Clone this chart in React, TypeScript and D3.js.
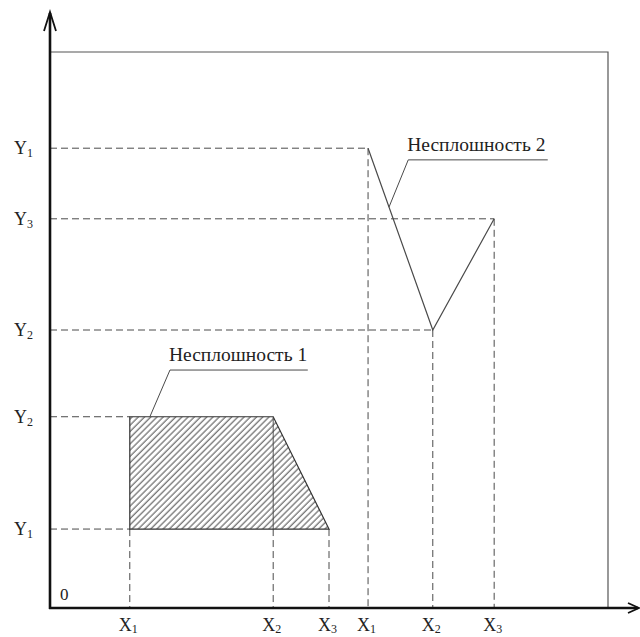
import React, { useEffect, useRef } from "react";
import * as d3 from "d3";

// axis values (in chart units, 0..100 on both axes)
const defect1X = [14.3, 40, 50];
const defect1Y = [14.2, 34.4];
const defect2X = [57, 68.6, 79.6];
const defect2Y = [82.7, 50, 70];

const xTickLabels = ["1", "2", "3", "1", "2", "3"];
const yTickLabels1 = ["1", "2"];
const yTickLabels2 = ["1", "2", "3"];

const leader1 = [[17.9, 34.4], [21.5, 42.8], [46.2, 42.8]];
const leader2 = [[60.75, 72.1], [64.2, 80.6], [89.2, 80.6]];
const labels = ["Несплошность 1", "Несплошность 2"];

const W = 640;
const H = 637;

export default function App() {
  const ref = useRef<SVGSVGElement>(null);

  useEffect(() => {
    const svg = d3.select(ref.current);
    svg.selectAll("*").remove();

    const x = d3.scaleLinear().domain([0, 100]).range([50, 608]);
    const y = d3.scaleLinear().domain([0, 100]).range([608, 52]);
    const x0 = x(0), y0 = y(0);

    const font = "Liberation Serif, Times New Roman, Tinos, DejaVu Serif, serif";
    const grey = "#4a4a4a";
    const line = d3.line<number[]>().x(d => x(d[0])).y(d => y(d[1]));

    // hatch pattern
    const defs = svg.append("defs");
    defs.append("pattern")
      .attr("id", "hatch")
      .attr("patternUnits", "userSpaceOnUse")
      .attr("width", 4.4).attr("height", 10)
      .attr("patternTransform", "rotate(45)")
      .append("line")
      .attr("x1", 1).attr("x2", 1).attr("y1", 0).attr("y2", 10)
      .attr("stroke", "#333").attr("stroke-width", 0.9);

    // frame
    svg.append("path")
      .attr("d", line([[0, 100], [100, 100], [100, 0]]))
      .attr("fill", "none").attr("stroke", "#555").attr("stroke-width", 1.2);

    // dashed projection lines
    const dashed = svg.append("g")
      .attr("stroke", grey).attr("stroke-width", 1)
      .attr("stroke-dasharray", "7,4").attr("fill", "none");

    const hSeg = [
      [defect1Y[0], defect1X[0]],
      [defect1Y[1], defect1X[0]],
      [defect2Y[0], defect2X[0]],
      [defect2Y[1], defect2X[1]],
      [defect2Y[2], defect2X[2]],
    ];
    dashed.selectAll("line.h").data(hSeg).join("line").attr("class", "h")
      .attr("x1", x0).attr("x2", d => x(d[1]))
      .attr("y1", d => y(d[0])).attr("y2", d => y(d[0]));

    const vSeg = [
      [defect1X[0], defect1Y[0]],
      [defect1X[1], defect1Y[0]],
      [defect1X[2], defect1Y[0]],
      [defect2X[0], defect2Y[0]],
      [defect2X[1], defect2Y[1]],
      [defect2X[2], defect2Y[2]],
    ];
    dashed.selectAll("line.v").data(vSeg).join("line").attr("class", "v")
      .attr("x1", d => x(d[0])).attr("x2", d => x(d[0]))
      .attr("y1", d => y(d[1])).attr("y2", y0);

    // defect 1: hatched trapezoid
    const trap = [
      [defect1X[0], defect1Y[1]],
      [defect1X[1], defect1Y[1]],
      [defect1X[2], defect1Y[0]],
      [defect1X[0], defect1Y[0]],
      [defect1X[0], defect1Y[1]],
    ];
    svg.append("path")
      .attr("d", line(trap) + "Z")
      .attr("fill", "url(#hatch)")
      .attr("stroke", "#333").attr("stroke-width", 1.2);
    svg.append("line")
      .attr("x1", x(defect1X[1])).attr("x2", x(defect1X[1]))
      .attr("y1", y(defect1Y[1])).attr("y2", y(defect1Y[0]))
      .attr("stroke", "#444").attr("stroke-width", 0.9);

    // defect 2: polyline
    svg.append("path")
      .attr("d", line(defect2X.map((v, i) => [v, defect2Y[i]])))
      .attr("fill", "none").attr("stroke", grey).attr("stroke-width", 1.2);

    // leaders + labels
    [leader1, leader2].forEach((pts, i) => {
      svg.append("path")
        .attr("d", line(pts))
        .attr("fill", "none").attr("stroke", grey).attr("stroke-width", 1);
      svg.append("text")
        .attr("x", x(pts[1][0]) - 1)
        .attr("y", y(pts[1][1]) - 9)
        .style("font-family", font).attr("font-size", 19.5).attr("fill", "#222")
        .text(labels[i]);
    });

    // axes
    const axes = svg.append("g").attr("stroke", "#111").attr("fill", "none");
    axes.append("line").attr("x1", x0).attr("x2", x0).attr("y1", y0 + 1).attr("y2", 13)
      .attr("stroke-width", 2.6);
    axes.append("line").attr("x1", x0 - 1).attr("x2", 638).attr("y1", y0).attr("y2", y0)
      .attr("stroke-width", 2.6);
    axes.append("path").attr("d", `M${x0 - 6},31 L${x0},12 L${x0 + 6},31`).attr("stroke-width", 1.8);
    axes.append("path").attr("d", `M628,${y0 - 5} L639,${y0} L628,${y0 + 5}`).attr("stroke-width", 1.8);

    // tick labels
    const allX = defect1X.concat(defect2X);
    const xt = svg.append("g").style("font-family", font).attr("fill", "#222");
    xt.selectAll("text").data(allX).join("text")
      .attr("x", d => x(d) - 11).attr("y", 631).attr("font-size", 18)
      .each(function (d, i) {
        const t = d3.select(this);
        t.append("tspan").text("X");
        t.append("tspan").attr("font-size", 12).attr("dy", 2).text(xTickLabels[i]);
      });

    const allY = defect1Y.map((v, i) => [v, yTickLabels1[i]])
      .concat(defect2Y.map((v, i) => [v, yTickLabels2[i]]));
    const yt = svg.append("g").style("font-family", font).attr("fill", "#222");
    yt.selectAll("text").data(allY).join("text")
      .attr("x", 14).attr("y", d => y(d[0] as number) + 6).attr("font-size", 18)
      .each(function (d) {
        const t = d3.select(this);
        t.append("tspan").text("Y");
        t.append("tspan").attr("font-size", 12).attr("dy", 3).text(d[1] as string);
      });

    svg.append("text")
      .attr("x", x0 + 10).attr("y", y0 - 8)
      .style("font-family", font).attr("font-size", 17).attr("fill", "#222")
      .text("0");
  }, []);

  return (
    <svg ref={ref} width={W} height={H}
      style={{ position: "absolute", left: 0, top: 0, background: "#fff" }} />
  );
}
